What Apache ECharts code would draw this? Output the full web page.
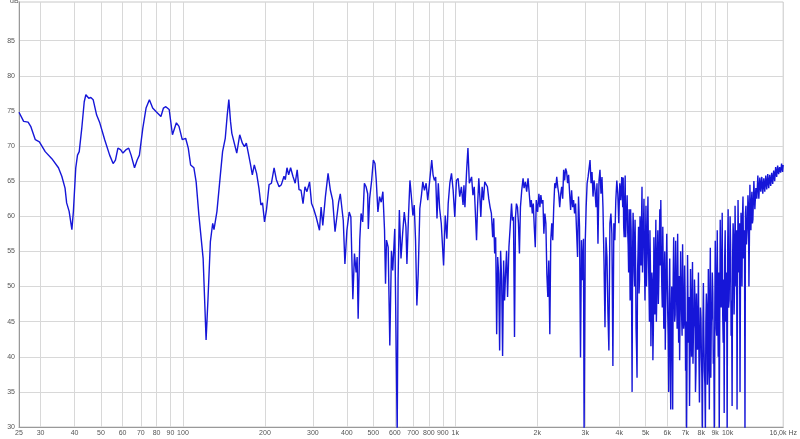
<!DOCTYPE html>
<html>
<head>
<meta charset="utf-8">
<script src="https://cdn.jsdelivr.net/npm/echarts@6/dist/echarts.min.js"></script>
<style>
  html, body { margin: 0; padding: 0; background: #fff; }
  #chart { width: 800px; height: 439px; }
</style>
</head>
<body>
<div id="chart"></div>
<script>
var freqHz = [
  25, 26.0, 27.0, 27.6, 28.7, 29.7, 31.2, 33.0, 34.9, 35.9, 36.9, 37.4, 38.2, 39.1, 39.6, 40.4, 41.0, 41.6, 42.5, 43.4,
  44.0, 45.1, 45.9, 46.8, 48.2, 49.5, 51.6, 53.8, 55.4, 56.5, 57.7, 59.0, 60.2, 61.9, 63.2, 64.5, 66.4, 67.9, 69.2, 71.2,
  73.2, 75.3, 77.4, 79.6, 83.0, 84.8, 86.5, 89.0, 91.5,
  94.6, 96.7, 99.4, 102.3, 104.6, 106.7, 109.7, 111.8, 114.4, 116.3, 118.6, 121.6, 123.6, 126.1, 128.6, 130.0, 133.3, 137.2, 139.8, 143.0,
  145.4, 147.4, 149.5, 151.2, 153.7, 157.6, 161.6, 165.3, 168.1, 170.9, 173.8, 176.8, 179.8, 182.8, 186.4, 190.1, 193.3, 196.0, 199.3, 202.6,
  207.2, 211.3, 216.1, 220.3, 225.4, 229.8, 235.0, 237.6, 241.0, 244.4, 248.5, 253.4, 258.3, 262.7,
  266.8, 271.4, 276.0, 280.6, 285.3, 291.7, 296.7, 301.7, 308.4, 312.9, 317.2, 321.6, 326.2, 333.5, 341.1, 347.8, 354.6, 361.8, 366.9, 373.0,
  378.2, 383.6, 387.9, 393.3, 400.0, 407.8, 413.6, 420.6, 426.4, 432.4, 436.1, 439.9, 445.9, 450.9, 457.2, 463.7, 470.3, 476.8, 479.4, 484.7,
  493.1, 500.1, 507.1, 512.7, 519.9, 527.2, 534.6, 542.2, 549.8, 554.4, 559.1, 567.0, 574.9, 582.9, 589.4, 599.5, 612.0, 616.5, 623.2, 631.9,
  640.7, 649.7, 658.8, 664.4, 673.8, 681.5, 689.2, 698.8, 706.7, 714.6, 722.7, 730.8, 741.1, 751.4, 759.8, 770.6, 781.5, 792.4, 801.4, 810.3,
  819.5, 828.7, 837.9, 847.3, 856.8, 866.3, 876.0, 888.2, 905.9, 918.6, 931.5, 941.9, 955.1, 968.5, 982.1, 995.8, 1009.8, 1024, 1038.6, 1053,
  1068, 1076, 1085, 1101, 1113, 1126, 1138, 1148, 1161, 1174, 1187, 1197, 1207, 1220, 1231, 1241, 1255, 1269, 1283, 1298,
  1312, 1327, 1342, 1357, 1372, 1384, 1395, 1407, 1419, 1431, 1443, 1455, 1467, 1480, 1492, 1505, 1517, 1530, 1543, 1556,
  1574, 1591, 1609, 1622, 1636, 1650, 1664, 1677, 1692, 1706, 1720, 1735, 1754, 1774, 1789, 1809, 1829, 1850, 1865, 1886,
  1902, 1918, 1934, 1950, 1967, 1983, 2006, 2028, 2045, 2062, 2080, 2098, 2115, 2133, 2151, 2169, 2187, 2205, 2224, 2242,
  2261, 2280, 2299, 2319, 2339, 2358, 2378, 2398, 2418, 2439, 2459, 2480, 2500, 2521, 2542, 2564, 2585, 2607, 2630, 2652,
  2674, 2697, 2719, 2742, 2765, 2788, 2812, 2835, 2859, 2883, 2907, 2932, 2956, 2972, 3000, 3024, 3049, 3074, 3100, 3125,
  3152, 3178, 3205, 3232, 3259, 3287, 3314, 3342, 3371, 3399, 3428, 3457, 3486, 3516, 3546, 3576, 3606, 3636, 3665, 3697,
  3728, 3759, 3791, 3822, 3854, 3886, 3919, 3952, 3985, 4018, 4052, 4086, 4120,
  4136, 4171, 4206, 4241, 4277, 4313, 4349, 4386, 4423, 4460, 4497, 4535, 4573, 4612, 4650, 4690, 4729, 4769, 4809, 4849,
  4890, 4931, 4973, 5015, 5057, 5099, 5142, 5185, 5229, 5273, 5317, 5362, 5407, 5452, 5498, 5544, 5591, 5638, 5685, 5733,
  5781, 5830, 5879, 5928, 5978, 6029, 6079, 6130, 6182, 6234, 6286, 6339, 6392, 6446, 6500, 6555, 6610, 6666, 6722, 6778,
  6835, 6893, 6951, 7009, 7068, 7127, 7187, 7248, 7309, 7370, 7432, 7494, 7557, 7621, 7685, 7750, 7815, 7881, 7947, 8014,
  8081, 8149, 8218, 8287, 8357, 8427, 8497, 8569, 8641, 8713, 8787, 8861, 8935, 9010, 9086, 9162, 9239, 9317, 9395, 9474,
  9554, 9634, 9715, 9797, 9879, 9962, 10046, 10130, 10215, 10301, 10388, 10475, 10563, 10652, 10741, 10832, 10923, 11015, 11107, 11201,
  11295, 11390, 11486, 11582, 11680, 11778, 11877, 11977, 12077, 12179, 12281, 12384, 12488, 12593, 12699, 12806, 12914, 13022, 13132, 13242,
  13353, 13466, 13579, 13693, 13808, 13924, 14041, 14159, 14278, 14398, 14519, 14641, 14764, 14888, 15013, 15139, 15267, 15395, 15524, 15655,
  15786, 15919, 16000
];
var levelDb = [
  74.8, 73.5, 73.4, 72.8, 70.9, 70.6, 69.2, 68.2, 66.9, 65.7, 64.0, 61.9, 60.7, 58.1, 60.7, 66.9, 68.7, 69.2, 72.5, 76.3,
  77.3, 76.8, 76.9, 76.6, 74.4, 73.3, 70.9, 68.7, 67.5, 68.0, 69.7, 69.5, 69.0, 69.5, 69.7, 68.7, 66.9, 68.0, 68.7, 72.5,
  75.4, 76.6, 75.4, 74.9, 74.2, 75.4, 75.6, 75.2, 71.6,
  73.3, 72.8, 70.9, 71.1, 69.7, 67.3, 66.9, 64.9, 60.2, 60.0, 54.0, 42.4, 48.3, 56.4, 59.0, 58.1, 60.7, 65.9, 69.2, 71.1,
  74.4, 76.6, 73.5, 71.8, 71.8, 69.0, 71.6, 70.4, 69.9, 70.4, 69.0, 67.5, 65.9, 67.3, 66.1, 64.0, 61.6, 61.9, 59.2, 60.9,
  64.5, 64.7, 66.9, 65.2, 64.2, 64.5, 65.7, 65.2, 66.9, 65.9, 66.9, 65.7, 64.7, 66.6,
  63.8, 63.7, 61.8, 64.2, 63.5, 64.9, 61.8, 61.1, 59.9, 60.1, 58.0, 61.3, 58.7, 62.8, 66.1, 63.7, 62.3, 57.8, 58.0, 62.0,
  63.2, 63.0, 59.4, 53.2, 58.0, 60.6, 59.9, 48.2, 54.7, 52.0, 54.2, 45.4, 56.6, 60.4, 59.2, 64.7, 64.2, 63.2, 58.2, 62.5,
  65.1, 68.0, 67.5, 65.1, 60.6, 62.8, 62.0, 63.5, 58.0, 50.4, 56.6, 55.6, 41.6, 55.1, 52.3, 58.2, 29, 50.9, 60.9, 54.0,
  57.5, 60.6, 58.5, 53.2, 60.4, 65.1, 63.0, 60.1, 61.6, 56.6, 47.3, 51.8, 61.1, 63.0, 64.9, 63.7, 64.7, 62.3, 64.2, 66.1,
  68.0, 65.9, 65.1, 65.6, 59.7, 64.7, 61.1, 59.0, 53.0, 60.1, 56.8, 61.8, 64.7, 66.1, 63.7, 59.9, 65.1, 65.4, 62.8, 64.2,
  61.6, 64.4, 61.3, 66.6, 69.7, 64.7, 64.9, 65.6, 63.0, 64.2, 59.9, 56.6, 61.3, 65.4, 62.8, 59.9, 64.2, 62.3, 64.9, 65.1,
  64.2, 62.5, 61.3, 60.4, 57.0, 59.7, 54.7, 57.0, 43.2, 54.2, 51.8, 40.9, 55.1, 50.9, 40.1, 53.7, 48.0, 51.8, 55.1, 48.5,
  55.6, 58.5, 61.8, 59.4, 59.9, 42.8, 59.9, 61.8, 61.3, 59.0, 54.7, 61.3, 63.7, 65.4, 64.0, 64.9, 63.5, 65.4, 63.7, 61.3,
  62.3, 60.4, 61.8, 58.5, 55.6, 62.3, 60.6, 63.2, 61.3, 63.0, 61.8, 62.3, 57.5, 60.4, 59.0, 51.8, 48.5, 53.7, 43.2, 56.6,
  59.0, 56.6, 61.3, 64.7, 64.0, 65.6, 64.2, 63.2, 61.3, 63.2, 64.2, 62.5, 66.6, 65.1, 66.8, 66.3, 64.7, 65.9, 63.2, 60.9,
  63.7, 61.3, 62.3, 60.4, 61.8, 58.0, 54.2, 62.8, 58.5, 39.9, 56.6, 50.9, 56.8, 29, 56.1, 61.3, 64.7, 65.6, 65.4, 68.0,
  64.7, 66.3, 62.8, 65.1, 63.7, 61.3, 64.7, 56.1, 65.1, 66.6, 63.2, 65.6, 61.3, 53.7, 44.2, 57.0, 54.2, 46.1, 40.9, 59.0,
  60.4, 57.5, 38.7, 59.0, 56.6, 62.3, 65.1, 63.2, 59.0, 64.7, 62.3, 65.6, 61.3,
  65.5, 57.0, 65.8, 60.0, 63.0, 56.0, 61.0, 48.0, 58.0, 35.0, 60.5, 52.0, 59.5, 44.0, 37.0, 55.0, 49.0, 60.0, 53.0, 64.2,
  56.0, 62.5, 48.0, 61.5, 54.0, 62.8, 50.0, 58.0, 41.5, 52.0, 39.5, 57.0, 46.0, 59.5, 49.0, 58.0, 51.0, 61.0, 62.3, 50.0,
  58.5, 44.0, 55.0, 48.0, 57.5, 46.0, 35.0, 54.0, 32.5, 50.0, 32.5, 57.0, 45.0, 56.5, 48.0, 57.5, 42.0, 39.5, 55.0, 46.0,
  56.0, 44.0, 53.0, 38.0, 29, 54.5, 42.0, 33.0, 52.5, 40.0, 53.5, 44.0, 51.0, 35.0, 49.0, 41.0, 52.0, 33.5, 47.0, 40.0,
  29, 50.5, 38.0, 29, 49.0, 36.0, 52.5, 32.5, 55.5, 45.0, 52.0, 39.0, 29, 56.5, 44.0, 58.0, 40.0, 29, 59.5, 47.0,
  60.5, 42.0, 32.0, 58.0, 45.0, 29, 61.0, 48.0, 60.0, 43.0, 33.0, 59.0, 46.0, 61.5, 50.0, 32.5, 62.3, 52.0, 35.0, 60.5,
  50.0, 62.8, 54.0, 29, 61.5, 56.0, 63.0, 50.0, 64.5, 58.0, 63.5, 59.5, 65.0, 61.0, 64.0, 62.5, 65.8, 62.5, 65.5, 63.5,
  65.6, 63.2, 65.4, 63.5, 65.8, 63.8, 66.0, 64.0, 65.9, 64.3, 66.2, 64.6, 66.5, 65.0, 67.0, 65.6, 67.2, 66.0, 67.0, 66.2,
  67.5, 66.3, 67.3
];
// extra in-between readings where the 4k-12k trace is densest
var hfMidHz = [
  4153, 4189, 4224, 4259, 4295, 4331, 4367, 4404, 4442, 4479, 4516, 4554, 4592, 4631, 4670, 4710, 4749, 4789, 4829, 4869,
  4911, 4952, 4994, 5036, 5078, 5120, 5164, 5207, 5251, 5295, 5339, 5385, 5430, 5475, 5521, 5567, 5614, 5662, 5709, 5757,
  5805, 5854, 5904, 5953, 6003, 6054, 6105, 6156, 6208, 6260, 6312, 6366, 6419, 6473, 6527, 6583, 6638, 6694, 6750, 6806,
  6864, 6922, 6980, 7038, 7098, 7157, 7217, 7278, 7340, 7401, 7463, 7525, 7589, 7653, 7717, 7783, 7848, 7914, 7980, 8048,
  8115, 8183, 8253, 8322, 8392, 8462, 8533, 8605, 8677, 8750, 8824, 8898, 8973, 9048, 9124, 9200, 9278, 9356, 9434, 9514,
  9594, 9674, 9756, 9838, 9920, 10004, 10088, 10173, 10258, 10344, 10432, 10519, 10607, 10697, 10786, 10877, 10969, 11061, 11154, 11248,
  11342, 11438, 11534, 11631, 11729, 11827, 11927, 12027, 12128, 12230, 12333
];
var hfMidDb = [
  58.5, 62.0, 57.0, 60.5, 58.0, 52.0, 56.0, 61.0, 47.0, 55.0, 57.5, 50.0, 54.0, 41.0, 52.0, 58.5, 51.0, 56.5, 59.0, 52.0,
  58.5, 53.0, 56.0, 50.0, 58.0, 55.0, 45.0, 53.0, 47.0, 50.5, 44.0, 52.0, 53.5, 45.0, 55.0, 47.5, 56.0, 53.0, 55.0, 47.0,
  52.0, 50.5, 41.0, 52.0, 51.0, 43.0, 49.0, 42.0, 46.0, 44.0, 51.0, 50.0, 46.0, 51.0, 44.0, 49.0, 51.5, 47.0, 50.0, 43.0,
  48.5, 45.0, 49.0, 45.0, 40.0, 47.0, 48.5, 41.0, 46.0, 47.5, 39.0, 45.0, 48.0, 38.0, 44.0, 46.0, 40.0, 42.0, 45.5, 37.0,
  44.0, 43.0, 36.0, 45.0, 47.0, 39.0, 44.0, 48.0, 37.0, 46.0, 49.0, 41.0, 46.0, 51.0, 43.0, 48.0, 52.0, 45.0, 50.0, 53.0,
  46.0, 51.0, 54.0, 45.0, 52.0, 55.0, 47.0, 53.0, 56.0, 48.0, 54.0, 57.0, 50.0, 55.0, 58.0, 51.0, 56.0, 59.0, 52.0, 57.0,
  60.0, 54.0, 58.0, 60.5, 56.0, 59.0, 61.5, 57.0, 60.0, 62.0, 59.0
];
var xTickHz = [25, 30, 40, 50, 60, 70, 80, 90, 100, 200, 300, 400, 500, 600, 700, 800, 900,
  1000, 2000, 3000, 4000, 5000, 6000, 7000, 8000, 9000, 10000, 16000];
var xTickText = ['25', '30', '40', '50', '60', '70', '80', '90', '100', '200', '300', '400', '500', '600', '700', '800', '900',
  '1k', '2k', '3k', '4k', '5k', '6k', '7k', '8k', '9k', '10k', '16,0k Hz'];
var yTicks = [30, 35, 40, 45, 50, 55, 60, 65, 70, 75, 80, 85];

var chart = echarts.init(document.getElementById('chart'), null, { renderer: 'canvas' });

var xTickLog = xTickHz.map(function (f) { return Math.log10(f); });
var lineData = freqHz.map(function (f, i) { return [Math.log10(f), levelDb[i]]; })
  .concat(hfMidHz.map(function (f, i) { return [Math.log10(f), hfMidDb[i]]; }))
  .sort(function (a, b) { return a[0] - b[0]; });

chart.setOption({
  animation: false,
  backgroundColor: '#fff',
  grid: {
    left: 19,
    right: 9,
    top: 2,
    bottom: 12,
    show: true,
    borderColor: '#c8c8c8',
    borderWidth: 1
  },
  graphic: [{
    type: 'text',
    left: 10,
    top: -2,
    style: { text: 'dB', fontSize: 7, fill: '#555', fontFamily: 'Liberation Sans' }
  }],
  xAxis: {
    type: 'value',
    min: Math.log10(25),
    max: Math.log10(16000),
    axisLine: { show: true, lineStyle: { color: '#999' } },
    axisTick: { show: false, customValues: xTickLog },
    splitLine: { show: true, lineStyle: { color: '#d8d8d8', width: 1 } },
    axisLabel: {
      customValues: xTickLog,
      fontSize: 7,
      color: '#555',
      fontFamily: 'Liberation Sans',
      margin: 3,
      showMinLabel: true,
      showMaxLabel: true,
      formatter: function (v) {
        for (var i = 0; i < xTickHz.length; i++) {
          if (Math.abs(xTickLog[i] - v) < 1e-6) return xTickText[i];
        }
        return '';
      }
    }
  },
  yAxis: {
    type: 'value',
    min: 30,
    max: 90.5,
    axisLine: { show: true, lineStyle: { color: '#999' } },
    axisTick: { show: false, customValues: yTicks },
    splitLine: { show: true, lineStyle: { color: '#d8d8d8', width: 1 } },
    axisLabel: {
      customValues: yTicks,
      fontSize: 7,
      color: '#555',
      fontFamily: 'Liberation Sans',
      margin: 4
    }
  },
  series: [{
    type: 'line',
    data: lineData,
    showSymbol: false,
    clip: true,
    lineStyle: { color: '#1616d8', width: 1.4 }
  }]
});
</script>
</body>
</html>
